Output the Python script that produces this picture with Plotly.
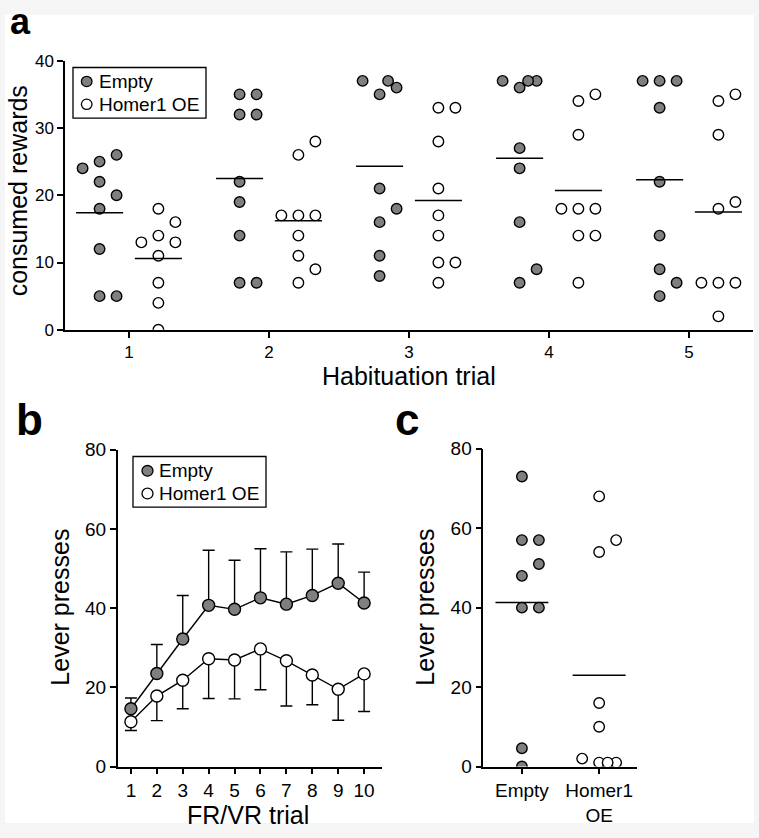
import plotly.graph_objects as go

W, H = 759, 838
FONT = "Liberation Sans, Arial, Helvetica, sans-serif"
GRAY = "#7f7f7f"

# ---------------- Panel a: consumed rewards per habituation trial ----------------
a_trials = [1, 2, 3, 4, 5]
a_empty = [
    [25, 26, 24, 22, 20, 18, 12, 5, 5],
    [35, 35, 32, 32, 22, 19, 14, 7, 7],
    [35, 36, 37, 37, 21, 16, 18, 11, 8],
    [36, 37, 37, 37, 27, 24, 16, 7, 9],
    [37, 37, 37, 33, 22, 14, 9, 7, 5],
]
a_homer = [
    [18, 16, 14, 13, 13, 11, 7, 4, 0],
    [26, 28, 17, 17, 17, 14, 11, 9, 7],
    [33, 33, 28, 21, 17, 14, 10, 10, 7],
    [34, 35, 29, 18, 18, 18, 14, 14, 7],
    [34, 35, 29, 18, 19, 7, 7, 7, 2],
]
a_empty_mean = [17.4, 22.5, 24.3, 25.5, 22.3]
a_homer_mean = [10.6, 16.2, 19.2, 20.7, 17.5]
a_yticks = [0, 10, 20, 30, 40]

# ---------------- Panel b: lever presses per FR/VR trial (mean +/- SEM) ----------------
b_trials = [1, 2, 3, 4, 5, 6, 7, 8, 9, 10]
b_empty_mean = [14.6, 23.5, 32.2, 40.7, 39.7, 42.6, 41.0, 43.2, 46.3, 41.3]
b_empty_sem = [2.7, 7.3, 11.0, 13.9, 12.4, 12.4, 13.2, 11.7, 9.9, 7.8]
b_homer_mean = [11.3, 17.8, 21.8, 27.2, 26.9, 29.7, 26.7, 23.1, 19.5, 23.4]
b_homer_sem = [2.2, 6.2, 7.2, 10.0, 9.8, 10.3, 11.4, 7.5, 7.8, 9.5]
b_yticks = [0, 20, 40, 60, 80]

# ---------------- Panel c: lever presses per animal ----------------
c_groups = ["Empty", "Homer1<br>OE"]
c_empty = [73, 57, 57, 48, 51, 40, 40, 4.6, 0]
c_homer = [68, 54, 57, 16, 10, 1, 1, 2, 1]
c_means = [41.3, 23.0]
c_yticks = [0, 20, 40, 60, 80]

series_names = ["Empty", "Homer1 OE"]


def px_x(p):
    return p / W


def px_y(p):
    return 1 - p / H


def swarm(values, center, col_w, unit_px, thr=15.0):
    """Greedy column swarm: points that would overlap vertically move sideways."""
    placed = []
    xs = []
    for v in values:
        ypx = v * unit_px
        chosen = 0
        for c in [0, 1, -1, 0.5, -0.5, 2, -2]:
            if all(not (pc == c and abs(py - ypx) < thr) for pc, py in placed):
                chosen = c
                break
        placed.append((chosen, ypx))
        xs.append(center + chosen * col_w)
    return xs


def mean_segments(centers, means, half):
    xs, ys = [], []
    for c, m in zip(centers, means):
        xs += [c - half, c + half, None]
        ys += [m, m, None]
    return xs, ys


fig = go.Figure()

# ---- panel a
A_UNIT = 276 / 40.0
A_COL = 17 / 140.0
A_OFF = 0.21
ex, ey, hx, hy = [], [], [], []
for t, ev, hv in zip(a_trials, a_empty, a_homer):
    ex += swarm(ev, t - A_OFF, A_COL, A_UNIT)
    ey += ev
    hx += swarm(hv, t + A_OFF, A_COL, A_UNIT)
    hy += hv

marker_e = dict(size=10.5, color=GRAY, line=dict(color="black", width=1.4))
marker_h = dict(size=10.5, color="white", line=dict(color="black", width=1.4))

fig.add_trace(go.Scatter(x=ex, y=ey, mode="markers", marker=marker_e, name=series_names[0],
                         xaxis="x", yaxis="y"))
fig.add_trace(go.Scatter(x=hx, y=hy, mode="markers", marker=marker_h, name=series_names[1],
                         xaxis="x", yaxis="y"))
mx, my = mean_segments([t - A_OFF for t in a_trials], a_empty_mean, 0.168)
fig.add_trace(go.Scatter(x=mx, y=my, mode="lines", line=dict(color="black", width=1.5),
                         xaxis="x", yaxis="y", hoverinfo="skip", name="Empty mean"))
mx, my = mean_segments([t + A_OFF for t in a_trials], a_homer_mean, 0.168)
fig.add_trace(go.Scatter(x=mx, y=my, mode="lines", line=dict(color="black", width=1.5),
                         xaxis="x", yaxis="y", hoverinfo="skip", name="Homer1 OE mean"))

# ---- panel b
mb_e = dict(size=12, color=GRAY, line=dict(color="black", width=1.4))
mb_h = dict(size=12, color="white", line=dict(color="black", width=1.4))
fig.add_trace(go.Scatter(
    x=b_trials, y=b_empty_mean, mode="lines+markers", marker=mb_e,
    line=dict(color="black", width=1.4),
    error_y=dict(type="data", symmetric=False, array=b_empty_sem,
                 arrayminus=[0] * len(b_empty_sem), color="black", thickness=1.4, width=6),
    xaxis="x2", yaxis="y2", name=series_names[0]))
fig.add_trace(go.Scatter(
    x=b_trials, y=b_homer_mean, mode="lines+markers", marker=mb_h,
    line=dict(color="black", width=1.4),
    error_y=dict(type="data", symmetric=False, array=[0] * len(b_homer_sem),
                 arrayminus=b_homer_sem, color="black", thickness=1.4, width=6),
    xaxis="x2", yaxis="y2", name=series_names[1]))

# ---- panel c
C_UNIT = 326 / 80.0
C_COL = 17 / 77.3
fig.add_trace(go.Scatter(x=swarm(c_empty, 0, C_COL, C_UNIT), y=c_empty, mode="markers",
                         marker=marker_e, xaxis="x3", yaxis="y3", name=series_names[0]))
fig.add_trace(go.Scatter(x=swarm(c_homer, 1, C_COL, C_UNIT), y=c_homer, mode="markers",
                         marker=marker_h, xaxis="x3", yaxis="y3", name=series_names[1]))
mx, my = mean_segments([0, 1], c_means, 0.343)
fig.add_trace(go.Scatter(x=mx, y=my, mode="lines", line=dict(color="black", width=1.5),
                         xaxis="x3", yaxis="y3", hoverinfo="skip", name="group means"))

axis_common = dict(showline=True, linecolor="black", linewidth=1.5, ticks="outside",
                   ticklen=6, tickwidth=1.5, tickcolor="black", showgrid=False,
                   zeroline=False, color="black")

# ---- boxed legends (drawn as shapes + text so their size matches the reference)
shapes = [dict(type="rect", xref="paper", yref="paper", layer="below",
               x0=px_x(5), x1=px_x(754), y0=px_y(834), y1=px_y(5),
               fillcolor="white", line=dict(width=0))]
ann = []


def add_legend(left, top, right, bottom, sym_x, text_x, rows_y, r):
    shapes.append(dict(type="rect", xref="paper", yref="paper", layer="above",
                       x0=px_x(left), x1=px_x(right), y0=px_y(bottom), y1=px_y(top),
                       fillcolor="white", line=dict(color="black", width=1.3)))
    for name, fill, yy in zip(series_names, [GRAY, "white"], rows_y):
        shapes.append(dict(type="circle", xref="paper", yref="paper", layer="above",
                           x0=px_x(sym_x - r), x1=px_x(sym_x + r),
                           y0=px_y(yy + r), y1=px_y(yy - r),
                           fillcolor=fill, line=dict(color="black", width=1.3)))
        ann.append(dict(text=name, x=px_x(text_x), y=px_y(yy), xanchor="left",
                        yanchor="middle", font=dict(size=19)))


add_legend(73, 59, 206, 111, 86.7, 97, [73.3, 96.7], 5.3)
add_legend(133, 458, 266, 510, 147.5, 157, [472.7, 496], 5.5)

fig.update_layout(
    width=W, height=H,
    margin=dict(l=0, r=0, t=0, b=0),
    showlegend=False,
    paper_bgcolor="#f5f5f5", plot_bgcolor="rgba(0,0,0,0)",
    font=dict(family=FONT, color="black"),
    xaxis=dict(axis_common, domain=[px_x(65), px_x(753)], range=[0.543, 5.457],
               tickvals=a_trials, tickfont=dict(size=17), anchor="y"),
    yaxis=dict(axis_common, domain=[px_y(328), px_y(52)], range=[0, 40],
               tickvals=a_yticks, tickfont=dict(size=17), anchor="x"),
    xaxis2=dict(axis_common, domain=[px_x(117.7), px_x(382)], range=[0.49, 10.69],
                tickvals=b_trials, tickfont=dict(size=19), anchor="y2"),
    yaxis2=dict(axis_common, domain=[px_y(776), px_y(451)], range=[0, 80],
                tickvals=b_yticks, tickfont=dict(size=19), anchor="x2"),
    xaxis3=dict(axis_common, domain=[px_x(483.3), px_x(637)], range=[-0.5, 1.49],
                tickvals=[0, 1], ticktext=c_groups, tickfont=dict(size=19), anchor="y3"),
    yaxis3=dict(axis_common, domain=[px_y(776), px_y(450)], range=[0, 80],
                tickvals=c_yticks, tickfont=dict(size=19), anchor="x3"),
    shapes=shapes,
)

ann += [
    # panel letters
    dict(text="<b>a</b>", x=px_x(9), y=px_y(12), xanchor="left", yanchor="middle",
         font=dict(size=36), borderpad=0),
    dict(text="<b>b</b>", x=px_x(14), y=px_y(420), xanchor="left", yanchor="middle",
         font=dict(size=44)),
    dict(text="<b>c</b>", x=px_x(393), y=px_y(420), xanchor="left", yanchor="middle",
         font=dict(size=44)),
    # axis titles
    dict(text="consumed rewards", x=px_x(18), y=px_y(186), textangle=-90,
         xanchor="center", yanchor="middle", font=dict(size=25)),
    dict(text="Habituation trial", x=px_x(409), y=px_y(375), xanchor="center",
         yanchor="middle", font=dict(size=25)),
    dict(text="Lever presses", x=px_x(60), y=px_y(613), textangle=-90,
         xanchor="center", yanchor="middle", font=dict(size=25)),
    dict(text="FR/VR trial", x=px_x(248), y=px_y(826), xanchor="center",
         yanchor="middle", font=dict(size=25)),
    dict(text="Lever presses", x=px_x(425), y=px_y(613), textangle=-90,
         xanchor="center", yanchor="middle", font=dict(size=25)),
]
for a in ann:
    a.update(xref="paper", yref="paper", showarrow=False)
fig.update_layout(annotations=ann)

fig.write_html("out.html", config={"displayModeBar": False},
               post_script="document.body.style.margin='0';")
